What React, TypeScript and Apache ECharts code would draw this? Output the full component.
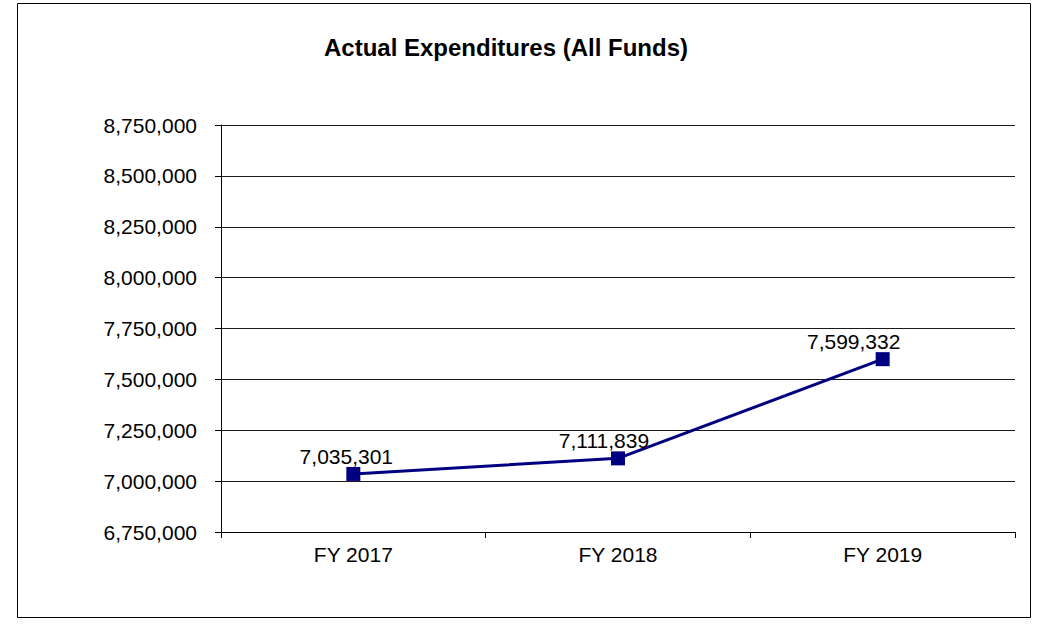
import React, { useEffect, useRef } from "react";
import * as echarts from "echarts";

const categories = ["FY 2017", "FY 2018", "FY 2019"];
const expenditures = [7035301, 7111839, 7599332];
const labelShiftX = [-7, -14, -29];
const yMin = 6750000;
const yMax = 8750000;
const yStep = 250000;
const title = "Actual Expenditures (All Funds)";

const fmt = (v: number) => v.toLocaleString("en-US");

export default function App() {
  const ref = useRef<HTMLDivElement>(null);
  useEffect(() => {
    if (!ref.current) return;
    const chart = echarts.init(ref.current, null, { renderer: "svg" });
    const font = "Liberation Sans, Arial, sans-serif";
    chart.setOption({
      animation: false,
      backgroundColor: "#ffffff",
      textStyle: { fontFamily: font },
      title: {
        text: title,
        left: 501,
        top: 30,
        textAlign: "center",
        textStyle: { fontFamily: font, fontWeight: "bold", fontSize: 24, color: "#000" },
      },
      graphic: [
        {
          type: "rect",
          shape: { x: 17.5, y: 3.5, width: 1013, height: 614 },
          style: { fill: "none", stroke: "#000", lineWidth: 1 },
          silent: true,
        },
      ],
      grid: { left: 221, right: 29, top: 125, bottom: 92 },
      xAxis: {
        type: "category",
        data: categories,
        boundaryGap: true,
        axisLine: { lineStyle: { color: "#000", width: 1 } },
        axisTick: { show: true, length: 6, inside: false, lineStyle: { color: "#000" } },
        axisLabel: { color: "#000", fontSize: 21, fontFamily: font, margin: 12 },
        splitLine: { show: false },
      },
      yAxis: {
        type: "value",
        min: yMin,
        max: yMax,
        interval: yStep,
        axisLine: { show: true, lineStyle: { color: "#000", width: 1 } },
        axisTick: { show: true, length: 6, inside: false, lineStyle: { color: "#000" } },
        axisLabel: {
          color: "#000",
          fontSize: 21,
          fontFamily: font,
          margin: 24,
          formatter: (v: number) => fmt(v),
        },
        splitLine: { show: true, lineStyle: { color: "#1a1a1a", width: 1 } },
      },
      series: [
        {
          type: "line",
          data: expenditures.map((v, i) => ({
            value: v,
            label: { offset: [labelShiftX[i], 0] },
          })),
          symbol: "rect",
          symbolSize: 14,
          lineStyle: { color: "#000080", width: 3 },
          itemStyle: { color: "#000080" },
          label: {
            show: true,
            position: "top",
            distance: 0,
            color: "#000",
            fontSize: 21,
            fontFamily: font,
            formatter: (p: any) => fmt(p.value),
          },
        },
      ],
    });
    return () => chart.dispose();
  }, []);
  return (
    <div
      ref={ref}
      style={{ position: "fixed", left: 0, top: 0, width: 1044, height: 624 }}
    />
  );
}
